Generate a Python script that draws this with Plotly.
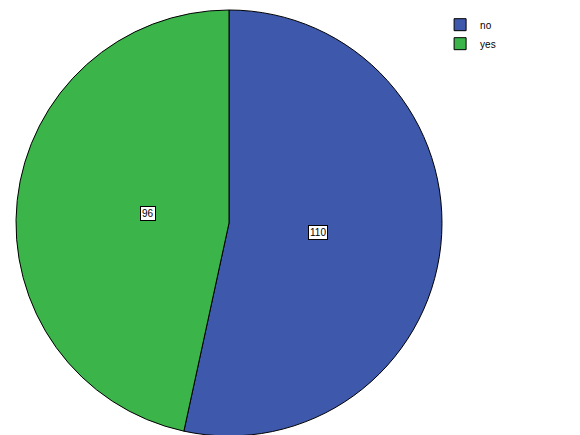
import plotly.graph_objects as go
import math

labels = ["no", "yes"]
values = [110, 96]
colors = ["#3E58AC", "#3BB44A"]

W, H = 580, 435
cx, cy, R = 221, 215, 213
x0, x1 = (cx - R) / W, (cx + R) / W
y0, y1 = 1 - (cy + R) / H, 1 - (cy - R) / H

fig = go.Figure(go.Pie(
    labels=labels, values=values, sort=False, direction="clockwise", rotation=0,
    marker=dict(colors=colors, line=dict(color="black", width=1)),
    textinfo="none", hoverinfo="label+value",
    domain=dict(x=[x0, x1], y=[y0, y1]),
))

total = sum(values)
cum = 0
for v in values:
    mid = (cum + v / 2) / total * 2 * math.pi
    cum += v
    px = cx + 0.42 * R * math.sin(mid)
    py = cy - 0.42 * R * math.cos(mid)
    fig.add_annotation(x=px / W, y=1 - py / H, xref="paper", yref="paper",
                       text=str(v), showarrow=False, bgcolor="white",
                       bordercolor="black", borderwidth=1, borderpad=1,
                       font=dict(family="Liberation Sans", size=10, color="black"))

fig.update_layout(
    width=W, height=H, margin=dict(l=0, r=0, t=0, b=0),
    paper_bgcolor="white", plot_bgcolor="white",
    legend=dict(x=0.745, y=0.995, xanchor="left", yanchor="top",
                font=dict(family="Liberation Sans", size=10, color="black"),
                itemwidth=30, tracegroupgap=0),
)
fig.write_html("out.html")
